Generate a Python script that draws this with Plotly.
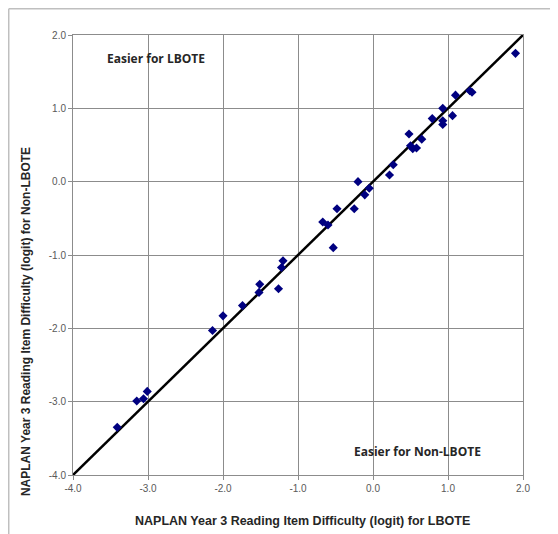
import plotly.graph_objects as go

# LBOTE (x) vs Non-LBOTE (y) item difficulties (logit)
lbote = [1.90, 1.10, 1.29, 1.32, 0.93, 1.06, 0.93, 0.93, 0.79, 0.48, 0.65, 0.50,
         0.53, 0.58, 0.27, 0.22, -0.20, -0.05, -0.11, -0.48, -0.25, -0.67, -0.60,
         -0.53, -1.20, -1.22, -1.51, -1.52, -1.26, -1.74, -2.00, -2.14, -3.01,
         -3.06, -3.15, -3.41]
non_lbote = [1.75, 1.18, 1.24, 1.22, 1.00, 0.90, 0.83, 0.78, 0.86, 0.65, 0.58, 0.49,
             0.45, 0.46, 0.23, 0.09, 0.00, -0.09, -0.18, -0.37, -0.37, -0.55, -0.59,
             -0.90, -1.08, -1.17, -1.40, -1.51, -1.46, -1.69, -1.83, -2.03, -2.86,
             -2.96, -2.99, -3.35]

identity_x = [-4.0, 2.0]
identity_y = [-4.0, 2.0]

tick_vals = [-4, -3, -2, -1, 0, 1, 2]
tick_text = ["-4.0", "-3.0", "-2.0", "-1.0", "0.0", "1.0", "2.0"]

fig = go.Figure()
fig.add_trace(go.Scatter(x=identity_x, y=identity_y, mode="lines",
                         line=dict(color="black", width=2.5), hoverinfo="skip",
                         showlegend=False))
fig.add_trace(go.Scatter(x=lbote, y=non_lbote, mode="markers",
                         marker=dict(symbol="diamond", color="#000080", size=7),
                         showlegend=False))

axis_common = dict(
    tickvals=tick_vals, ticktext=tick_text,
    showgrid=True, gridcolor="#8c8c8c", gridwidth=1,
    showline=True, linecolor="#8c8c8c", linewidth=1, mirror=True,
    ticks="outside", ticklen=4, tickcolor="#8c8c8c",
    zeroline=False,
    tickfont=dict(family="Liberation Sans, Arial", size=10, color="#595959"),
)

fig.update_xaxes(range=[-4, 2], **axis_common)
fig.update_yaxes(range=[-4, 2], **axis_common)

fig.update_layout(
    width=550, height=526,
    margin=dict(l=65, r=35, t=27, b=59),
    plot_bgcolor="white", paper_bgcolor="white",
    shapes=[
        dict(type="line", xref="paper", yref="paper", x0=-0.1428, x1=1.1, y0=1.0597, y1=1.0597,
             line=dict(color="#bfbfbf", width=1.5)),
        dict(type="line", xref="paper", yref="paper", x0=-0.1428, x1=-0.1428, y0=-0.14, y1=1.0597,
             line=dict(color="#bfbfbf", width=1.5)),
    ],
    annotations=[
        dict(text="NAPLAN Year 3 Reading Item Difficulty (logit) for LBOTE",
             xref="paper", yref="paper", x=0.51, y=-0.1045, xanchor="center", yanchor="middle",
             showarrow=False, font=dict(family="Liberation Sans, Arial", size=12.5, color="#262626", weight="bold")),
        dict(text="NAPLAN Year 3 Reading Item Difficulty (logit) for Non-LBOTE",
             xref="paper", yref="paper", x=-0.104, y=0.348, xanchor="center", yanchor="middle",
             textangle=-90, showarrow=False,
             font=dict(family="Liberation Sans, Arial", size=12, color="#262626", weight="bold")),
        dict(text="Easier for LBOTE", x=-3.57, y=1.686, xref="x", yref="y",
             xanchor="left", yanchor="middle", showarrow=False,
             font=dict(family="Open Sans, Liberation Sans", size=12, color="#262626", weight="bold")),
        dict(text="Easier for Non-LBOTE", x=-0.28, y=-3.675, xref="x", yref="y",
             xanchor="left", yanchor="middle", showarrow=False,
             font=dict(family="Open Sans, Liberation Sans", size=12, color="#262626", weight="bold")),
    ],
)

fig.write_html("out.html")
